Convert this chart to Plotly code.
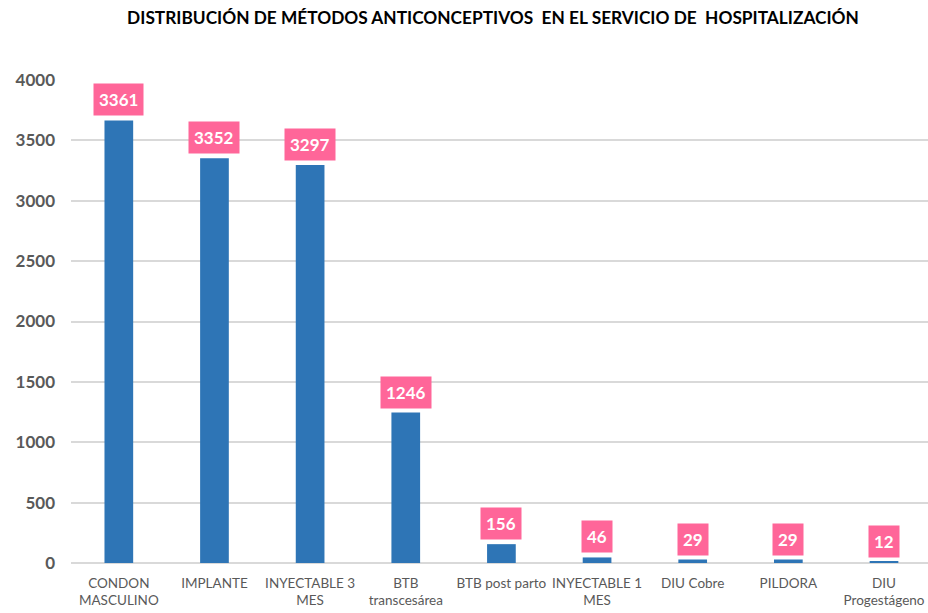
import plotly.graph_objects as go

categories = ["CONDON<br>MASCULINO", "IMPLANTE", "INYECTABLE 3<br>MES", "BTB<br>transcesárea",
              "BTB post parto", "INYECTABLE 1<br>MES", "DIU Cobre", "PILDORA", "DIU<br>Progestágeno"]
bar_values = [3665, 3352, 3297, 1246, 156, 46, 29, 29, 12]
label_values = [3361, 3352, 3297, 1246, 156, 46, 29, 29, 12]
y_ticks = [0, 500, 1000, 1500, 2000, 2500, 3000, 3500, 4000]

FONT = "Lato"

fig = go.Figure()
fig.add_trace(go.Bar(x=categories, y=bar_values, marker=dict(color="#2E75B6", line=dict(width=0)),
                     hoverinfo="skip"))

for c, v, t in zip(categories, bar_values, label_values):
    fig.add_annotation(x=c, y=v, text=f"<b>{t}</b>", showarrow=False, yanchor="bottom", yshift=4,
                       bgcolor="#FF6699", borderpad=5,
                       font=dict(family=FONT, size=17, color="white"))

fig.update_layout(
    width=928, height=613,
    margin=dict(l=71, r=0, t=80, b=50),
    paper_bgcolor="white", plot_bgcolor="white",
    bargap=0.7,
    showlegend=False,
    title=dict(text="<b>DISTRIBUCIÓN DE MÉTODOS ANTICONCEPTIVOS  EN EL SERVICIO DE  HOSPITALIZACIÓN</b>",
               x=493 / 928, xanchor="center", y=1 - 18 / 613, yanchor="middle",
               font=dict(family=FONT, size=17.3, color="black")),
    xaxis=dict(tickfont=dict(family=FONT, size=13.5, color="#595959"), showgrid=False,
               showline=False, ticks="", range=[-0.5, 8.46], ticklabelstandoff=10),
    yaxis=dict(range=[0, 4000], tickvals=y_ticks, ticktext=[f"<b>{v}</b>" for v in y_ticks],
               showgrid=True, gridcolor="#D9D9D9", gridwidth=1.5,
               zeroline=True, zerolinecolor="#D9D9D9", zerolinewidth=1.5,
               tickfont=dict(family=FONT, size=17, color="#595959", weight="bold"),
               ticklabelstandoff=15),
)

fig.write_html("out.html", config={"displayModeBar": False},
               post_script="document.body.style.margin='0';document.body.style.overflow='hidden';")
